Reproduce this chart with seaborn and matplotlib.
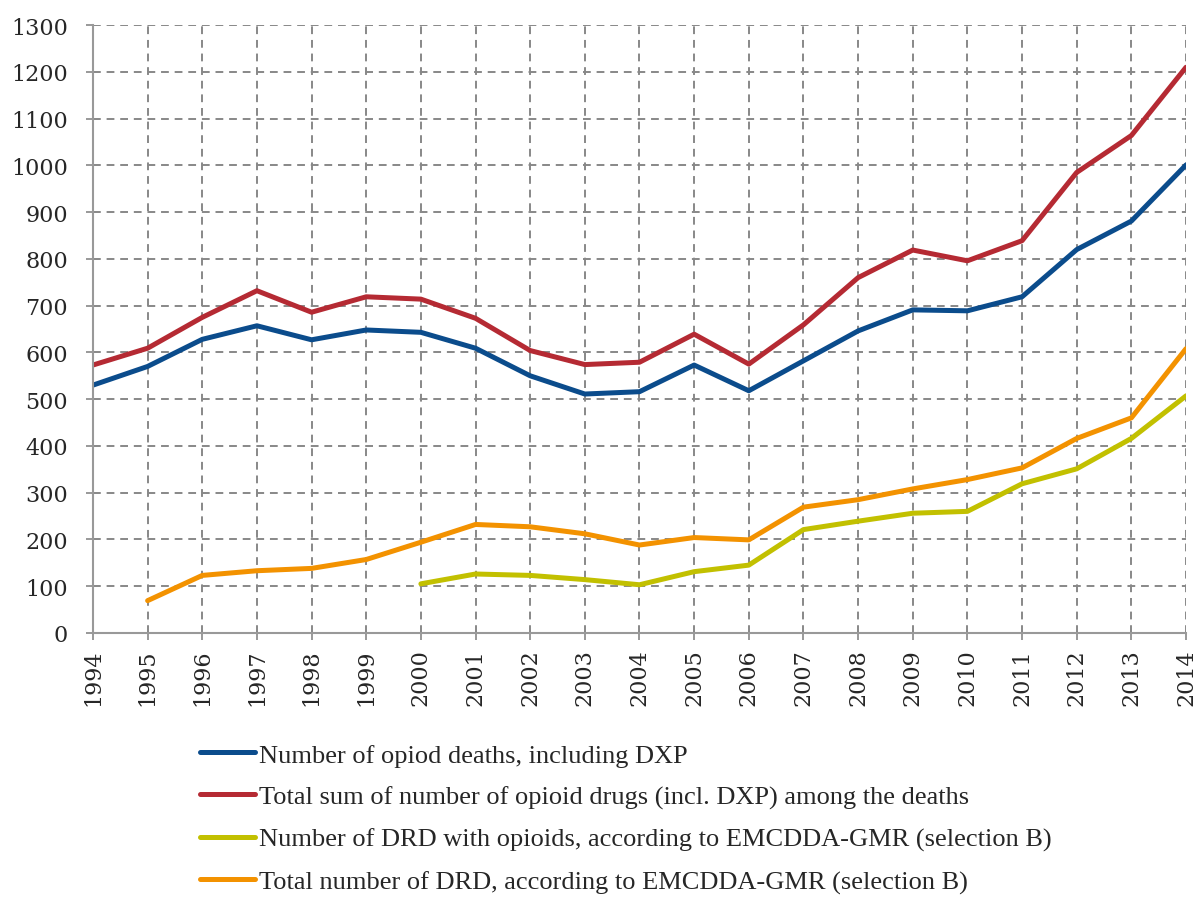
import numpy as np
import pandas as pd
import matplotlib
matplotlib.use('Agg')
import matplotlib.pyplot as plt
import seaborn as sns

# data
years = list(range(1994, 2015))
opioid_deaths = [530, 570, 628, 657, 627, 648, 643, 609, 550, 511, 516, 573, 518,
                 582, 646, 691, 689, 719, 820, 881, 1001]
opioid_drugs = [573, 609, 675, 732, 686, 719, 714, 673, 604, 574, 579, 639, 575,
                659, 760, 819, 796, 839, 985, 1064, 1210]
drd_opioids = [np.nan] * 6 + [105, 126, 123, 114, 103, 131, 145,
                              221, 239, 256, 260, 319, 351, 416, 507]
drd_total = [np.nan, 69, 123, 133, 138, 157, 194, 232, 227, 212, 188, 204, 199,
             269, 285, 308, 328, 353, 416, 460, 608]

labels = ['Number of opiod deaths, including DXP',
          'Total sum of number of opioid drugs (incl. DXP) among the deaths',
          'Number of DRD with opioids, according to EMCDDA-GMR (selection B)',
          'Total number of DRD, according to EMCDDA-GMR (selection B)']
colors = ['#0B4C8C', '#B52A33', '#C2C000', '#F39200']

df = pd.DataFrame({'Year': years, labels[0]: opioid_deaths, labels[1]: opioid_drugs,
                   labels[2]: drd_opioids, labels[3]: drd_total})

sns.set_style('white')
plt.rcParams['font.family'] = ['Liberation Serif', 'DejaVu Serif']

fig = plt.figure(figsize=(11.98, 9.03), dpi=100)
ax = fig.add_axes([0.0776, 0.298, 0.9124, 0.673])

for lab, col in zip(labels, colors):
    sns.lineplot(data=df, x='Year', y=lab, color=col, linewidth=3.6, ax=ax,
                 label=lab, legend=False, solid_capstyle='round')

tick_font = {'family': ['DejaVu Serif'], 'size': 16}
ax.set_xlim(1994, 2014)
ax.set_ylim(0, 1300)
ax.set_xticks(years)
ax.set_xticklabels([str(y) for y in years], rotation=90, fontdict=tick_font)
ax.set_yticks(range(0, 1301, 100))
ax.set_yticklabels([str(v) for v in range(0, 1301, 100)], fontdict=tick_font)
ax.set_xlabel('')
ax.set_ylabel('')
ax.grid(True, color='#888888', linestyle=(0, (4, 3)), linewidth=1.4)
ax.set_axisbelow(True)
for s in ['top', 'right']:
    ax.spines[s].set_visible(False)
for s in ['left', 'bottom']:
    ax.spines[s].set_color('#999999')
    ax.spines[s].set_linewidth(1.5)
ax.tick_params(axis='both', which='both', direction='out', length=5, width=1.4,
               color='#999999', left=True, bottom=True)
ax.tick_params(axis='y', pad=13)
ax.tick_params(axis='x', pad=6)

handles, _ = ax.get_legend_handles_labels()
fig.legend(handles, labels, loc='upper left', bbox_to_anchor=(0.167, 0.176),
           frameon=False, fontsize=19, handlelength=2.1, handletextpad=0.12,
           labelspacing=0.7, borderaxespad=0, borderpad=0)

plt.savefig('out.png', dpi=100)
